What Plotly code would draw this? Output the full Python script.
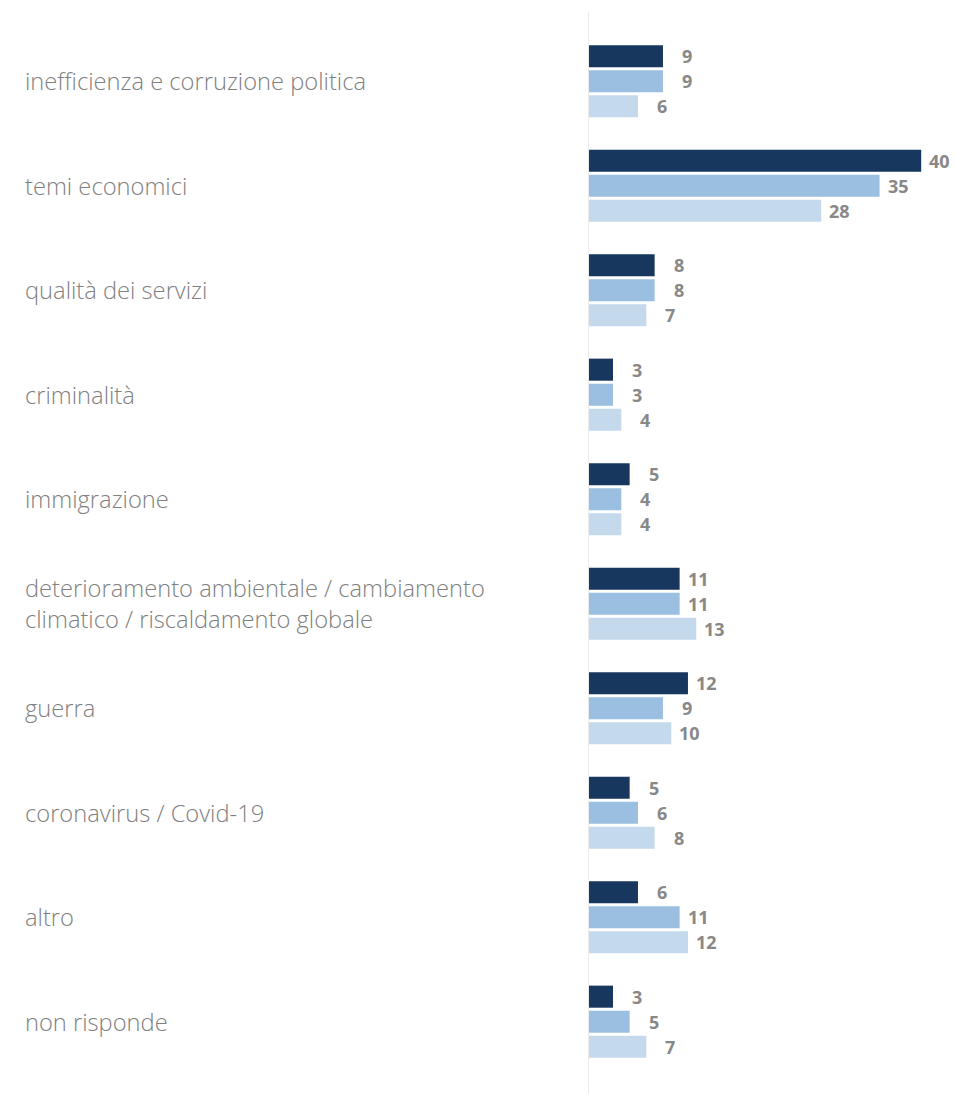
import plotly.graph_objects as go

categories = [
    "inefficienza e corruzione politica",
    "temi economici",
    "qualità dei servizi",
    "criminalità",
    "immigrazione",
    "deterioramento ambientale / cambiamento<br>climatico / riscaldamento globale",
    "guerra",
    "coronavirus / Covid-19",
    "altro",
    "non risponde",
]
serie_1 = [9, 40, 8, 3, 5, 11, 12, 5, 6, 3]
serie_2 = [9, 35, 8, 3, 4, 11, 9, 6, 11, 5]
serie_3 = [6, 28, 7, 4, 4, 13, 10, 8, 12, 7]

series = [("serie 1", serie_1, "#17375e"),
          ("serie 2", serie_2, "#9bbfe0"),
          ("serie 3", serie_3, "#c5d9ec")]

W, H = 956, 1094
ML, MR, MT, MB = 588, 0, 29, 20
PX_PER_UNIT = 8.33
x_max = (W - ML - MR) / PX_PER_UNIT

fig = go.Figure()
for name, vals, color in series:
    fig.add_trace(go.Bar(
        y=categories, x=vals, name=name, orientation="h",
        marker=dict(color=color, line=dict(width=0)),
        hoverinfo="x+y",
    ))

# value labels, right-aligned just past each bar end
offsets = [25, 0, -25]
for (name, vals, color), dy in zip(series, offsets):
    for cat, v in zip(categories, vals):
        fig.add_annotation(
            x=v, y=cat, xref="x", yref="y",
            text=f"<b>{v}</b>", showarrow=False,
            xanchor="right", yanchor="middle",
            xshift=31, yshift=dy,
            font=dict(family="Open Sans, sans-serif", size=18, color="#888888"),
        )

# category labels at the left edge
for cat in categories:
    fig.add_annotation(
        x=(23 - ML) / (W - ML - MR), y=cat, xref="paper", yref="y",
        text=cat, showarrow=False, xanchor="left", yanchor="middle",
        align="left",
        font=dict(family="Open Sans, sans-serif", size=23.7, color="#808080",
                  weight=300),
    )

# vertical baseline
plot_h = H - MT - MB
fig.add_shape(type="line", xref="x", yref="paper",
              x0=0, x1=0, y0=-MB / plot_h, y1=1 + (MT - 12) / plot_h,
              line=dict(color="#ebebeb", width=2))

fig.update_layout(
    width=W, height=H,
    margin=dict(l=ML, r=MR, t=MT, b=MB),
    barmode="group", bargap=0.28, bargroupgap=0.12,
    plot_bgcolor="white", paper_bgcolor="white",
    showlegend=False,
    xaxis=dict(range=[0, x_max], visible=False, fixedrange=True),
    yaxis=dict(autorange="reversed", showticklabels=False, showgrid=False,
               zeroline=False, showline=False, ticks=""),
)

fig.write_html("out.html")
